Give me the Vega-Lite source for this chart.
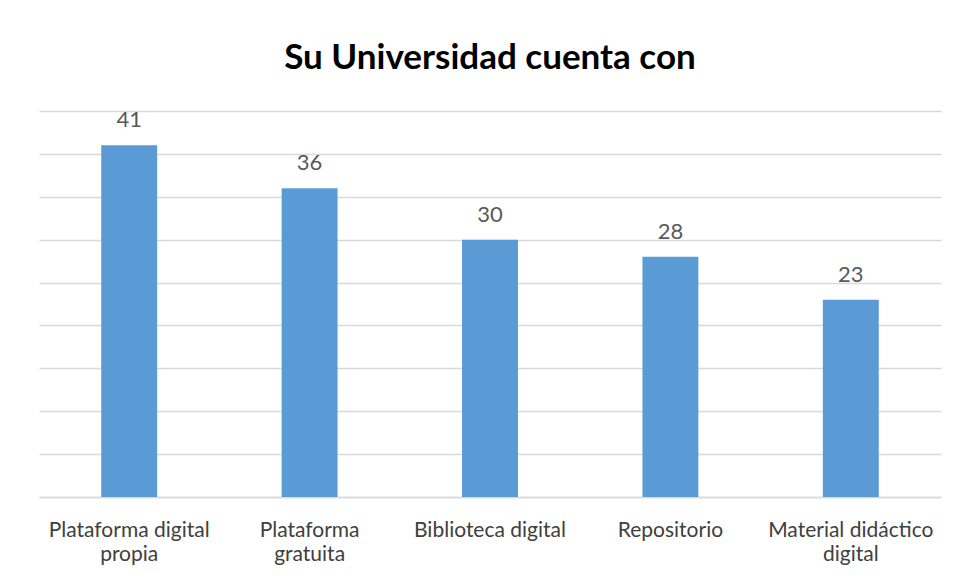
{
  "$schema": "https://vega.github.io/schema/vega-lite/v6.json",
  "autosize": "none",
  "width": 902,
  "height": 386,
  "padding": {"left": 39, "top": 111, "right": 18, "bottom": 84},
  "background": "white",
  "title": {
    "text": "Su Universidad cuenta con",
    "font": "Lato",
    "fontSize": 35,
    "fontWeight": "bold",
    "color": "#000000",
    "anchor": "middle",
    "offset": 5,
    "baseline": "alphabetic"
  },
  "data": {
    "values": [
      {"categoria": "Plataforma digital propia", "valor": 41},
      {"categoria": "Plataforma gratuita", "valor": 36},
      {"categoria": "Biblioteca digital", "valor": 30},
      {"categoria": "Repositorio", "valor": 28},
      {"categoria": "Material didáctico digital", "valor": 23}
    ]
  },
  "encoding": {
    "x": {
      "field": "categoria",
      "type": "nominal",
      "sort": null,
      "scale": {"paddingInner": 0.69, "paddingOuter": 0.345},
      "axis": {
        "title": null,
        "labelAngle": 0,
        "labelFont": "Lato",
        "labelFontSize": 21,
        "labelColor": "#404040",
        "labelPadding": 39,
        "labelLineHeight": 24,
        "labelBaseline": "alphabetic",
        "ticks": false,
        "domainColor": "#d9d9d9",
        "domainWidth": 1.5,
        "labelExpr": "datum.label == 'Plataforma digital propia' ? ['Plataforma digital', 'propia'] : datum.label == 'Plataforma gratuita' ? ['Plataforma', 'gratuita'] : datum.label == 'Material didáctico digital' ? ['Material didáctico', 'digital'] : datum.label"
      }
    },
    "y": {
      "field": "valor",
      "type": "quantitative",
      "scale": {"domain": [0, 45], "nice": false},
      "axis": {
        "title": null,
        "labels": false,
        "ticks": false,
        "domain": false,
        "values": [0, 5, 10, 15, 20, 25, 30, 35, 40, 45],
        "gridColor": "#d9d9d9",
        "gridWidth": 1.5
      }
    }
  },
  "layer": [
    {"mark": {"type": "bar", "color": "#5b9bd5"}},
    {
      "mark": {
        "type": "text",
        "font": "Lato",
        "fontSize": 22,
        "color": "#595959",
        "baseline": "alphabetic",
        "dy": -18
      },
      "encoding": {"text": {"field": "valor", "type": "quantitative"}}
    }
  ],
  "config": {"view": {"stroke": null}}
}
